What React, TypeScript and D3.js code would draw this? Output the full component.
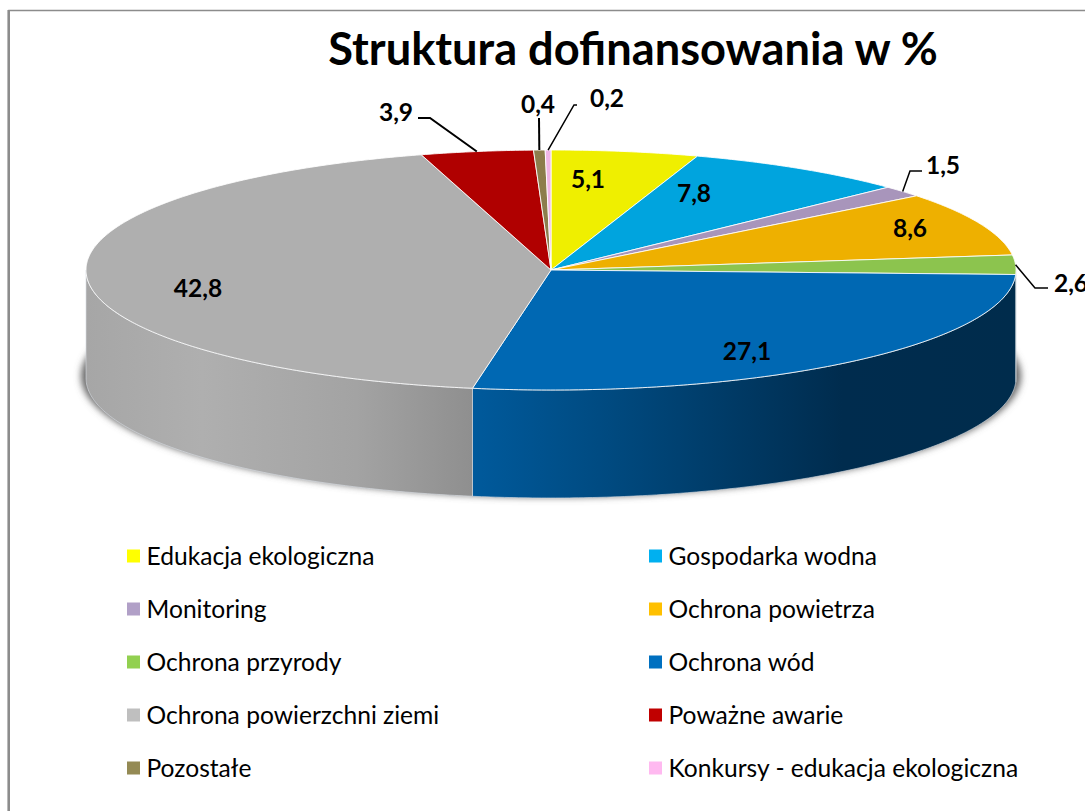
import React from "react";
import * as d3 from "d3";

const categories = ["Edukacja ekologiczna","Gospodarka wodna","Monitoring","Ochrona powietrza","Ochrona przyrody","Ochrona wód","Ochrona powierzchni ziemi","Poważne awarie","Pozostałe","Konkursy - edukacja ekologiczna"];
const values = [5.1,7.8,1.5,8.6,2.6,27.1,42.8,3.9,0.4,0.2];
const labels = ["5,1","7,8","1,5","8,6","2,6","27,1","42,8","3,9","0,4","0,2"];
const faceColors = ["#efef00","#00a4de","#a895bb","#eeb000","#8cc44e","#0068b3","#afafaf","#b00000","#8c7d4c","#f0b6e6"];
const legendColors = ["#ffff00","#00b0f0","#b1a0c7","#ffc000","#92d050","#0070c0","#bfbfbf","#c00000","#948a54","#ffb9f0"];
const title = "Struktura dofinansowania w %";

const W = 1085, H = 811;
const cx = 551, cy = 270, rx = 465, ry = 120, depth = 108;
const FONT = "Lato, 'Open Sans', sans-serif";

const pt = (a: number, dy = 0): [number, number] => [cx + rx * Math.sin(a), cy - ry * Math.cos(a) + dy];
const arcPts = (a0: number, a1: number, dy = 0) => {
  const n = Math.max(2, Math.ceil(Math.abs(a1 - a0) / 0.01));
  return d3.range(n + 1).map((i) => pt(a0 + ((a1 - a0) * i) / n, dy));
};
const line = d3.line();

// label centres (x, baseline) chosen per slice index
const labelPos: [number, number][] = [[588,188],[694,202],[943,174],[910,237],[1071,292],[747,360],[198,297],[396,121],[538,113],[607,107]];
const leaders: Record<number, [number, number][]> = {
  2: [[922,171],[910,171]],
  4: [[1048,288],[1035,288]],
  7: [[418,118],[430,118]],
  8: [[539,118]],
  9: [[577,105],[574,105]],
};

export default function App() {
  const arcs = d3.pie<number>().sort(null)(values);
  const wallFill = [, , , , , "url(#wallBlue)", "url(#wallGray)"];
  const lo = Math.PI / 2, hi = (3 * Math.PI) / 2;
  const legendY = d3.scalePoint<number>().domain([0,1,2,3,4]).range([556,768]);
  return (
    <svg width={W} height={H} style={{ position: "absolute", left: 0, top: 0, display: "block", background: "#fff" }}>
      <defs>
        <filter id="blur" x="-5%" y="-20%" width="110%" height="140%">
          <feGaussianBlur stdDeviation="3.5" />
        </filter>
        <linearGradient id="wallBlue" gradientUnits="userSpaceOnUse" x1="472" x2="1016" y1="0" y2="0">
          <stop offset="0" stopColor="#005a9c" />
          <stop offset="0.25" stopColor="#004a80" />
          <stop offset="0.68" stopColor="#002c4e" />
          <stop offset="1" stopColor="#002c4c" />
        </linearGradient>
        <linearGradient id="wallGray" gradientUnits="userSpaceOnUse" x1="86" x2="472" y1="0" y2="0">
          <stop offset="0" stopColor="#a6a6a6" />
          <stop offset="0.3" stopColor="#afafaf" />
          <stop offset="0.7" stopColor="#a3a3a3" />
          <stop offset="1" stopColor="#8f8f8f" />
        </linearGradient>
      </defs>

      <path d={`M9 ${H}V10.5H${W}`} fill="none" stroke="#8c8c8c" strokeWidth={1.5} />
      <line x1={8.7} x2={8.7} y1={10} y2={H} stroke="#8c8c8c" strokeWidth={2.6} />

      <text x={633} y={65} textAnchor="middle" fontFamily={FONT} fontWeight={700} fontSize={45.2} fill="#000">{title}</text>

      <ellipse cx={cx} cy={cy + 106} rx={rx + 5} ry={ry + 1} fill="#666" filter="url(#blur)" />

      {arcs.map((a, i) => {
        const s = Math.max(a.startAngle, lo), e = Math.min(a.endAngle, hi);
        if (e <= s) return null;
        const pts = [...arcPts(s, e), ...arcPts(e, s, depth)];
        return <path key={i} d={line(pts)! + "Z"} fill={wallFill[i] ?? faceColors[i]} stroke="#d8dde2" strokeWidth={0.8} strokeOpacity={0.8} />;
      })}

      {arcs.map((a, i) => {
        const pts = [[cx, cy] as [number, number], ...arcPts(a.startAngle, a.endAngle)];
        return <path key={i} d={line(pts)! + "Z"} fill={faceColors[i]} stroke="#fff" strokeOpacity={0.85} strokeWidth={1} strokeLinejoin="round" />;
      })}

      {arcs.map((a, i) => {
        const head = leaders[i];
        if (!head) return null;
        const mid = (a.startAngle + a.endAngle) / 2;
        return <path key={i} d={line([...head, pt(mid)])!} fill="none" stroke="#000" strokeWidth={i === 8 || i === 7 ? 2 : 1.5} />;
      })}

      {labels.map((t, i) => (
        <text key={i} x={labelPos[i][0]} y={labelPos[i][1]} textAnchor="middle" fontFamily={FONT} fontWeight={700} fontSize={24.5} fill="#000">{t}</text>
      ))}

      {categories.map((c, i) => {
        const col = i % 2, y = legendY(Math.floor(i / 2))!;
        const mx = col === 0 ? 127 : 649;
        return (
          <g key={c}>
            <rect x={mx} y={y - 6.5} width={13} height={13} fill={legendColors[i]} />
            <text x={mx + 19.5} y={y + 9} fontFamily={FONT} fontSize={24.6} fill="#000">{c}</text>
          </g>
        );
      })}
    </svg>
  );
}
